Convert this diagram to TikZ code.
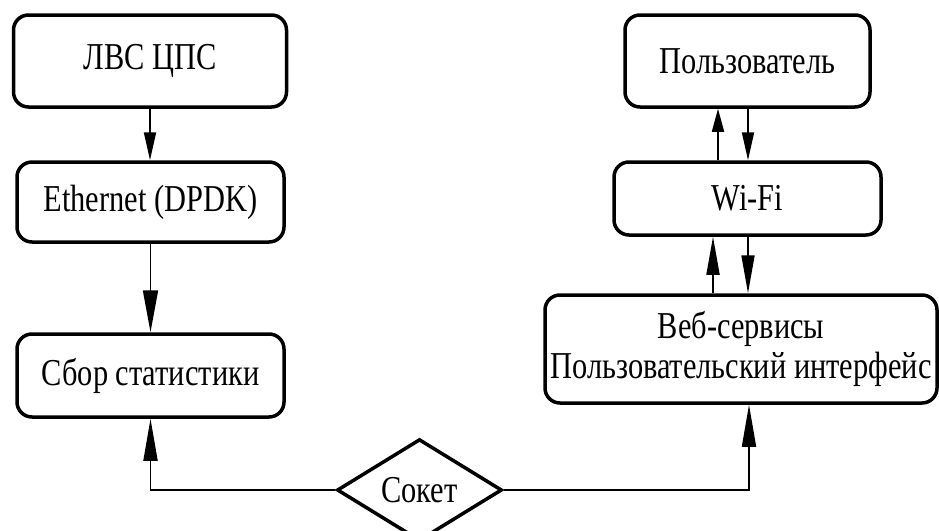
\documentclass[tikz,border=0pt]{standalone}
\usepackage{fontspec}
\setmainfont{Liberation Serif}[FakeStretch=0.80]
\usetikzlibrary{arrows.meta,shapes.geometric}

\begin{document}
\begin{tikzpicture}[x=1pt,y=-1pt,
  block/.style={draw, line width=3.5pt, rounded corners=15pt, inner sep=0pt,
    font=\fontsize{38}{40}\selectfont, align=center},
  socket/.style={draw, diamond, line width=3.5pt, inner sep=0pt,
    minimum width=165pt, minimum height=94pt, font=\fontsize{38}{40}\selectfont},
  link/.style={line width=1.8pt},
  tipS/.style={link, -{Triangle[length=28pt,width=12pt]}},
  tipL/.style={link, -{Triangle[length=42pt,width=15pt]}},
  tipU/.style={link, -{Triangle[length=23pt,width=12pt]}},
  tipM/.style={link, -{Triangle[length=38pt,width=13pt]}},
  tipB/.style={link, -{Triangle[length=42pt,width=14pt]}}
]
\useasboundingbox (0,0) rectangle (939,530);

% left column
\node[block, minimum width=273pt, minimum height=92pt] (lvs)  at (150,61)    {ЛВС ЦПС};
\node[block, minimum width=267pt, minimum height=80pt] (eth)  at (150.5,202) {Ethernet (DPDK)};
\node[block, minimum width=267pt, minimum height=83pt] (sbor) at (150.5,375.5) {Сбор статистики};

% right column
\node[block, minimum width=245pt, minimum height=92pt]  (user) at (747.5,61)   {Пользователь};
\node[block, minimum width=267pt, minimum height=73pt]  (wifi) at (747.5,198.5) {Wi-Fi};
\node[block, minimum width=392pt, minimum height=108pt] (web)  at (741,349)    {Веб-сервисы\\Пользовательский интерфейс};

% socket
\node[socket] (sock) at (419.5,490) {Сокет};

% entry point of the socket link into the web block
\coordinate (webin) at ([xshift=8pt]web.south);

% left column links
\draw[tipS] (lvs.south) -- (lvs.south |- eth.north);
\draw[tipL] (eth.south) -- (eth.south |- sbor.north);

% user <-> wifi
\draw[tipU] ([xshift=-29.5pt]wifi.north) -- ([xshift=-29.5pt]wifi.north |- user.south);
\draw[tipS] ([xshift=0.5pt]user.south) -- ([xshift=0.5pt]user.south |- wifi.north);

% wifi <-> web
\draw[tipM] ([xshift=-34.5pt]wifi.south |- web.north) -- ([xshift=-34.5pt]wifi.south);
\draw[tipM] ([xshift=0.5pt]wifi.south) -- ([xshift=0.5pt]wifi.south |- web.north);

% socket links
\draw[tipB] (sock.west) -- (sock.west -| sbor.south) -- (sbor.south);
\draw[tipB] (sock.east) -- (sock.east -| webin) -- (webin);
\end{tikzpicture}
\end{document}
